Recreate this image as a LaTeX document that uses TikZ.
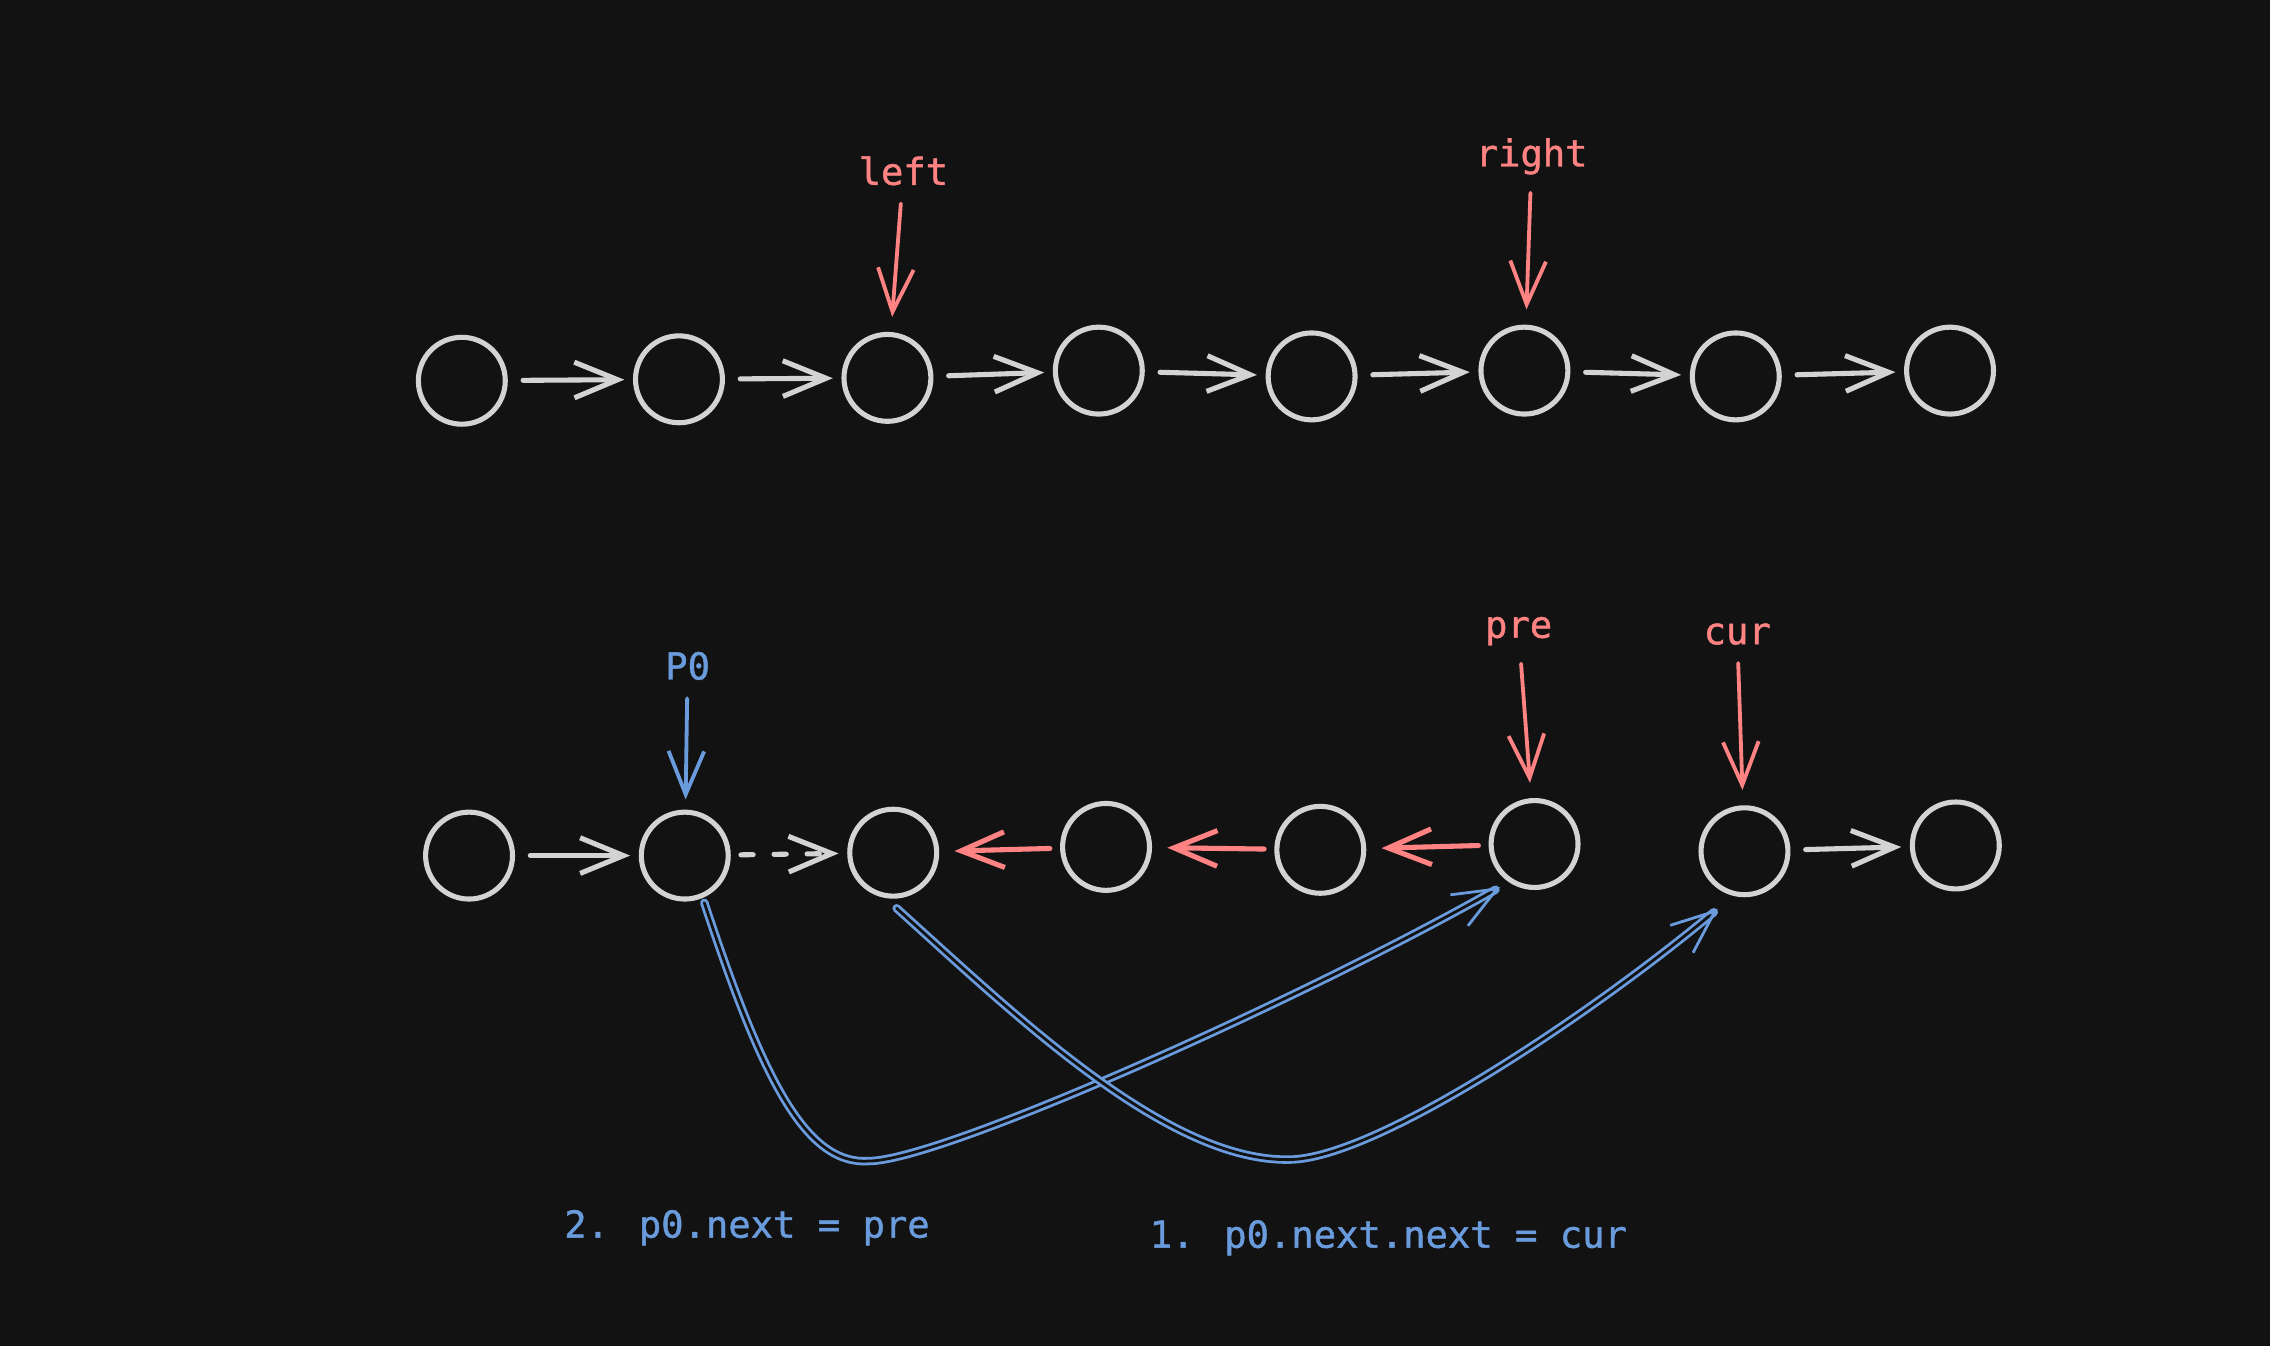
\documentclass[tikz,border=0pt]{standalone}
\usepackage{fontspec}
\newfontfamily\tagfont[FakeBold=1.2]{DejaVu Sans Mono}
\usetikzlibrary{arrows.meta}

\definecolor{bgdark}{HTML}{121212}
\definecolor{chalk}{HTML}{D3D3D3}
\definecolor{salmon}{HTML}{FF8383}
\definecolor{skyblue}{HTML}{6A9BDD}

\begin{document}
\begin{tikzpicture}[x=0.01cm, y=-0.01cm, >={Straight Barb[length=8.5pt, width=7pt]}, line cap=round,
	elem/.style={circle, draw=chalk, line width=1pt, minimum size=0.6cm, inner sep=0pt},
	link/.style={->, draw=chalk, line width=1pt, shorten <=3pt, shorten >=1.7pt},
	back/.style={->, draw=salmon, line width=1pt, shorten <=2pt, shorten >=3pt},
	ptr/.style={->, line width=0.75pt, shorten <=3.4pt, shorten >=3pt},
	tag/.style={font=\tagfont\fontsize{7.3}{9}\selectfont, inner sep=0pt},
	relink/.style={->, draw=skyblue, double=bgdark, double distance=0.55pt, line width=0.55pt}]
			\fill[bgdark] (0,0) rectangle (1568,930);
			\useasboundingbox (0,0) rectangle (1568,930);

			% Nodes, first list
			\node (t1) [elem] at (319,263) {};
			\node (t2) [elem] at (469,262) {};
			\node (t3) [elem] at (613,261) {};
			\node (t4) [elem] at (759,256) {};
			\node (t5) [elem] at (906,260) {};
			\node (t6) [elem] at (1053,256) {};
			\node (t7) [elem] at (1199,260) {};
			\node (t8) [elem] at (1347,256) {};
			\node (lLeft) [tag, text=salmon] at (624,118) {left};
			\node (lRight) [tag, text=salmon] at (1058,108) {right};

			% Nodes, second list
			\node (b1) [elem] at (324,591) {};
			\node (b2) [elem] at (473,591) {};
			\node (b3) [elem] at (617,589) {};
			\node (b4) [elem] at (764,585) {};
			\node (b5) [elem] at (912,587) {};
			\node (b6) [elem] at (1060,583) {};
			\node (b7) [elem] at (1205,588) {};
			\node (b8) [elem] at (1351,584) {};
			\node (lP) [tag, text=skyblue] at (475,460) {P0};
			\node (lPre) [tag, text=salmon] at (1049,436) {pre};
			\node (lCur) [tag, text=salmon] at (1200,438) {cur};
			\node (lStepTwo) [tag, text=skyblue] at (516,848) {2. p0.next = pre};
			\node (lStepOne) [tag, text=skyblue] at (959,855) {1. p0.next.next = cur};
			\coordinate (lowA) at (600,802);
			\coordinate (lowB) at (890,801);

			% Arrows
			\foreach \a/\b in {t1/t2, t2/t3, t3/t4, t4/t5, t5/t6, t6/t7, t7/t8, b1/b2, b7/b8}
				\draw[link] (\a) -- (\b);
			\draw[link, dash pattern=on 2.4pt off 4.1pt, shorten <=2pt] (b2) -- (b3);
			\draw[back] (b4) -- (b3);
			\draw[back] (b5) -- (b4);
			\draw[back] (b6) -- (b5);
			\draw[ptr, draw=salmon] (lLeft) -- (t3);
			\draw[ptr, draw=salmon] (lRight) -- (t6);
			\draw[ptr, draw=skyblue, shorten >=2pt] (lP) -- (b2);
			\draw[ptr, draw=salmon] (lPre) -- (b6);
			\draw[ptr, draw=salmon] (lCur) -- (b7);

			% Relinking
			\draw[relink, shorten <=1pt, shorten >=2pt] (b2.-67) .. controls (525,740) and (555,805) .. (lowA)
				.. controls (650,802) and (900,690) .. (b6.-124);
			\draw[relink, shorten <=3pt, shorten >=4pt] (b3.-100) .. controls (700,700) and (805,802) .. (lowB)
				.. controls (950,801) and (1100,700) .. (b7.-104);
\end{tikzpicture}
\end{document}
